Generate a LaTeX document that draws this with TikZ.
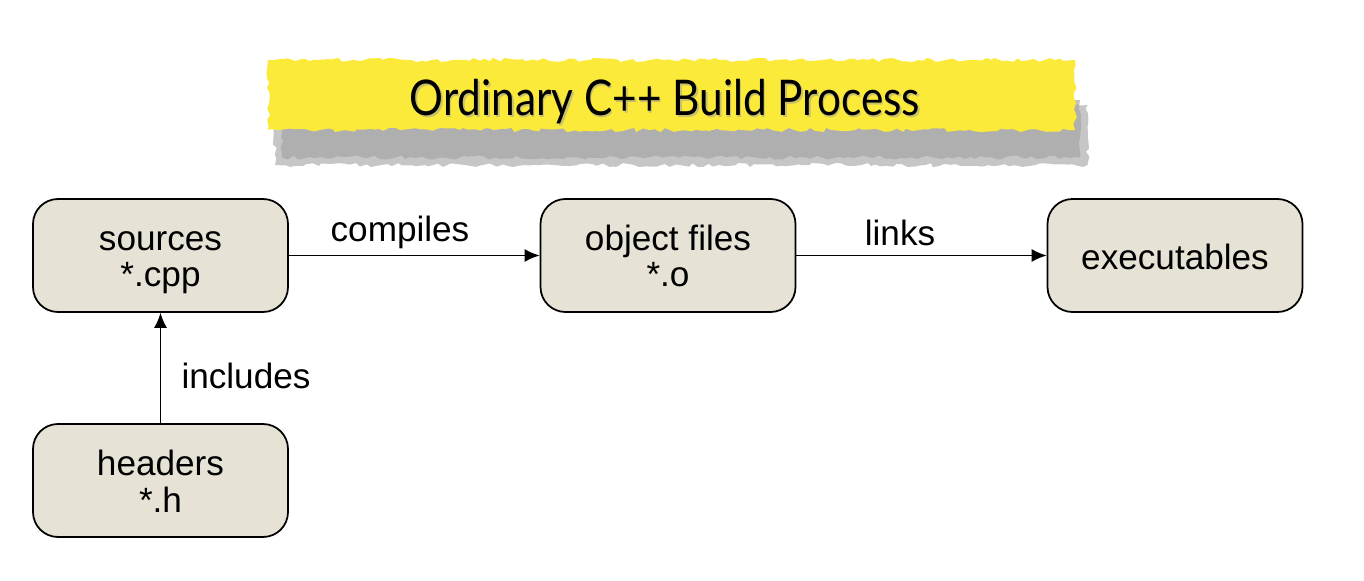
\documentclass[tikz,border=0pt]{standalone}
\usepackage{fontspec}
\setmainfont{Liberation Sans}
\newfontfamily\titlefont{Lato}
\usetikzlibrary{arrows.meta,decorations.pathmorphing}

\definecolor{boxfill}{RGB}{230,226,214}
\definecolor{tornyellow}{RGB}{252,234,58}

\begin{document}
\begin{tikzpicture}[
    filebox/.style={draw, line width=1pt, fill=boxfill, rounded corners=0.5cm, minimum width=5.1cm, minimum height=2.26cm, align=center, font=\fontsize{20}{20.5}\selectfont},
    twoline/.style={text height=1.26cm, text depth=0pt},
    flow/.style={-{Latex[length=3mm,width=2.6mm]}, line width=0.85pt},
    flowlabel/.style={font=\fontsize{20}{24}\selectfont},
    torn/.style={decorate, decoration={random steps, segment length=3pt, amplitude=1.2pt}}
  ]
    \useasboundingbox (0,0) rectangle (27.28,11.6);
    \pgfmathsetseed{42}

    % Title banner: grey shadow, then the yellow torn strip
    \fill[gray!45, torn] (5.5,8.3) rectangle (21.75,9.5);
    \fill[gray!70, opacity=0.7, torn] (5.64,8.45) rectangle (21.6,9.6);
    \fill[tornyellow, torn] (5.36,9.0) rectangle (21.5,10.4);
    \node[font=\titlefont\fontsize{28}{32}\selectfont, text=black!40, opacity=0.5] at (13.33,9.53) {\scalebox{0.86}[1]{Ordinary C++ Build Process}};
    \node[font=\titlefont\fontsize{28}{32}\selectfont] (title) at (13.3,9.56) {\scalebox{0.86}[1]{Ordinary C++ Build Process}};

    % The build stages
    \node[filebox, twoline] (sources) at (3.21,6.49) {sources\\*.cpp};
    \node[filebox, twoline] (objects) at (13.36,6.49) {object files\\*.o};
    \node[filebox, text height=0.58cm, text depth=0pt] (executables) at (23.5,6.49) {executables};
    \node[filebox, twoline] (headers) at (3.21,1.99) {headers\\*.h};

    % Connectors
    \draw[flow] (sources) -- (objects);
    \draw[flow] (objects) -- (executables);
    \draw[flow] (headers) -- (sources);

    % Labels
    \node[flowlabel] (compiles) at (8.0,6.95) {compiles};
    \node[flowlabel] (links) at (18.0,6.95) {links};
    \node[flowlabel] (includes) at (4.92,4.08) {includes};
\end{tikzpicture}
\end{document}
